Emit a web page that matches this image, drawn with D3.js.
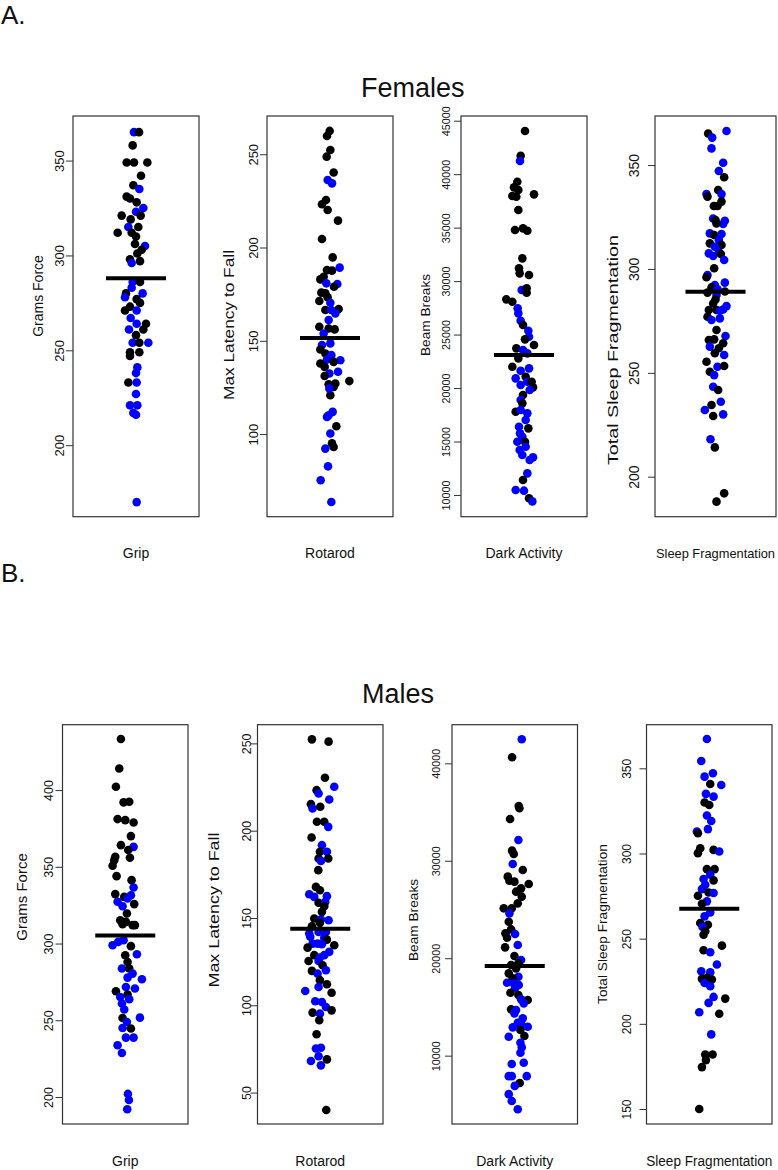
<!DOCTYPE html>
<html><head><meta charset="utf-8">
<script src="https://cdn.jsdelivr.net/npm/d3@7/dist/d3.min.js"></script>
<style>body{margin:0;background:#fff}svg{display:block}text{font-family:"Liberation Sans",Arial,Helvetica,sans-serif;fill:#111}</style>
</head><body><svg id="c" width="778" height="1170"></svg>
<script>
// ---- data: [value, group (0 = black, 1 = blue), jitter] ----
const femaleGrip = [[365,1,-6],[365,0,9],[358,0,-10],[349,0,-28],[349,0,-6],[349,0,34],[342,0,15],[337,0,-8],[335,1,10],[331,0,-28],[330,0,-18],[328,0,2],[325,1,22],[323,1,0],[321,0,-43],[321,0,14],[319,0,-16],[315,1,-23],[315,0,7],[312,0,-55],[312,0,-13],[310,0,0],[306,0,-3],[305,1,27],[303,0,17],[301,0,4],[298,0,-18],[297,0,12],[296,1,-13],[286,1,-10],[286,0,12],[283,1,-13],[280,1,20],[280,0,-30],[278,1,-33],[277,0,2],[275,0,12],[271,0,-33],[273,0,-18],[271,1,2],[267,1,-16],[264,1,2],[264,0,30],[261,1,-21],[258,0,0],[261,0,22],[254,1,37],[254,1,-10],[254,0,10],[249,0,-18],[249,0,10],[247,0,-18],[241,1,4],[238,1,0],[233,0,-23],[233,1,2],[227,1,0],[221,1,-18],[221,1,4],[217,1,-8],[216,1,0],[170,1,2]];
const femaleRotarod = [[262.5,0,-1],[259.8,0,-9],[252.3,0,1],[248.7,0,-10],[240.2,0,11],[236.2,1,-7],[234.4,1,6],[223.2,0,-24],[225.5,0,-12],[220.1,0,-7],[214.4,0,24],[204.6,0,-24],[194.7,0,8],[189.2,1,29],[187.9,0,-9],[187.6,0,6],[182.9,0,-29],[184.3,0,-19],[180.8,1,-11],[180.4,1,22],[179,0,12],[175.8,0,-26],[175.4,0,-14],[173.3,0,-7],[171.3,0,-32],[170.4,1,1],[167,0,26],[166.5,0,-14],[166.5,1,4],[164.7,1,16],[161.1,1,-4],[157.5,0,-32],[156.6,0,-4],[156.1,0,14],[153.9,1,-19],[147.7,1,-24],[148.6,1,1],[145.3,0,-29],[143.2,0,-14],[142.3,1,4],[140,1,-9],[139.6,1,31],[138.7,0,11],[137.8,0,-29],[136,0,-16],[133.4,1,24],[132.5,1,-2],[131.1,0,-16],[128.4,0,58],[127.1,0,16],[126.7,0,-4],[125.3,0,11],[120.8,0,1],[124.4,1,-2],[111.9,1,8],[110.1,1,-4],[109.2,1,-9],[104.2,0,19],[100.3,1,1],[95,0,6],[93.1,0,11],[92.2,1,-14],[82.7,1,-6],[75.2,1,-28],[63.6,1,4]];
const femaleDark = [[44034,0,3],[41727,0,-10],[41228,1,-12],[39296,0,-20],[38766,0,-30],[38517,0,-17],[37956,0,-35],[37893,0,-23],[38112,0,30],[36646,0,-17],[34776,0,-27],[34932,0,-3],[34714,0,10],[32127,0,-5],[31192,0,-15],[30725,0,-13],[30569,0,15],[29166,1,-7],[29322,0,8],[28917,0,8],[28293,0,-53],[28075,0,-35],[27452,1,-19],[26985,1,-17],[26298,1,-10],[25893,0,-3],[25363,1,13],[24802,1,15],[24553,0,3],[24023,0,30],[23711,0,-23],[23555,1,-3],[23244,1,10],[22776,0,-17],[21997,0,-35],[21841,1,15],[21623,1,-10],[20906,1,-25],[21062,0,5],[20594,1,10],[20283,1,-10],[20594,0,23],[20064,0,27],[19815,1,17],[19347,0,-3],[18879,1,-10],[18568,0,-5],[17789,0,-25],[17944,1,-10],[17633,1,10],[17009,1,5],[16386,1,-15],[16230,0,13],[15763,1,-12],[15451,1,-5],[14984,0,3],[14984,1,-20],[14516,1,5],[14204,1,-13],[13737,1,-5],[13519,1,27],[13270,1,17],[12022,1,10],[11399,0,-3],[10464,1,-25],[10402,1,0],[9700,0,15],[9400,1,25]];
const femaleSleep = [[365.2,0,-22],[366.4,1,33],[363.2,1,-10],[358,1,-12],[351.1,1,23],[347.1,1,10],[344.1,0,26],[338,0,8],[336,1,-27],[334.8,0,-24],[336,1,18],[332.4,0,18],[330.3,0,-5],[330.3,0,6],[324.3,1,-7],[323.5,0,0],[323.2,1,28],[321.6,1,23],[321.9,0,3],[317.1,1,-17],[316.3,0,-4],[316.8,1,18],[313.9,1,10],[312.3,0,-17],[311.5,0,18],[310.7,1,-2],[307.5,1,-20],[308,1,10],[306.2,1,-7],[307.2,0,16],[304.3,1,26],[300.3,0,-4],[297.1,1,-24],[296,0,-27],[292.2,1,-2],[293.4,1,28],[291.1,0,-12],[290.2,1,6],[289.1,0,28],[288.6,0,-24],[287.4,1,3],[285.3,0,0],[283.4,0,-7],[282.1,1,33],[280.5,1,23],[280.2,0,-20],[280.2,0,3],[279.9,1,13],[277,0,-24],[275.4,1,-12],[276.2,1,13],[270.6,0,3],[267.7,1,30],[265.8,0,-20],[266.1,0,-4],[264.2,0,23],[262.6,1,-17],[261.8,0,10],[259.4,0,-2],[258.6,1,26],[255.3,0,-27],[250.5,0,-17],[248.9,1,-4],[252.9,1,6],[253.3,0,26],[243.3,1,-7],[241.7,0,8],[236.1,1,16],[234.5,0,-12],[232.1,1,-32],[229.2,0,-7],[230,1,23],[218,1,-15],[214.1,0,-2],[188,0,3],[192,0,26]];
const maleGrip = [[433.3,0,-13],[414.1,0,-18],[402.2,0,-28],[392,0,-5],[392.4,0,12],[381.1,0,-23],[380.4,0,0],[378.9,0,25],[370,0,17],[364.1,0,-13],[363,1,25],[360.9,0,9],[355.9,0,14],[356.5,0,-30],[354.3,0,-33],[350.7,0,-38],[343.9,0,-26],[341.3,0,19],[336.5,1,25],[331.5,1,17],[332.2,0,-30],[330.4,0,-3],[329.3,1,7],[327.2,1,-23],[325.7,0,27],[324.3,1,-8],[319.6,0,5],[315.2,0,-15],[314.1,0,2],[312,0,22],[312,0,29],[312.6,0,-8],[298.9,1,-38],[301.1,1,-21],[302.2,1,-5],[298.3,0,17],[292.4,0,0],[293,1,35],[288,0,7],[283.7,1,-10],[283.7,0,12],[280.4,1,22],[277.8,1,7],[276.7,1,50],[268.9,0,-28],[271.7,1,2],[270.7,1,29],[266.7,0,7],[265.2,1,-15],[263.7,1,12],[260.9,1,-10],[257,1,-3],[251.5,0,-8],[251.7,1,44],[248.9,1,5],[244.6,0,17],[245,1,-8],[238.7,1,2],[238.7,1,25],[233.7,1,-23],[228.7,1,-10],[202,1,8],[198,1,11],[192,1,6]];
const maleRotarod = [[252.3,0,-25],[251,0,25],[230.3,0,14],[223.2,0,-11],[221.3,1,-5],[225.2,1,42],[217.9,1,27],[215.2,0,-28],[212.7,1,-23],[213.7,0,0],[205.1,0,-10],[205.1,0,12],[202.2,1,24],[196.1,0,-26],[191.7,1,5],[187.9,0,-1],[187.9,1,20],[184.1,0,-5],[184.1,0,24],[182.7,1,2],[177.4,0,-6],[167.8,0,-13],[165.9,0,-1],[163.6,1,-33],[162.1,1,-18],[162.5,1,20],[158.7,0,-5],[159.2,1,15],[156.7,0,12],[153.5,0,5],[149.7,0,-18],[149.1,1,2],[148.7,1,25],[145.3,0,-25],[147.2,0,-1],[141.1,1,-33],[142,1,-5],[142,1,17],[139.2,1,-30],[138.6,1,12],[137.6,0,20],[135.3,1,-23],[135.3,1,-8],[135,1,5],[134.4,0,42],[133,0,-38],[130.6,1,27],[128.7,1,12],[128.7,0,-18],[127.3,1,-1],[125.4,0,-35],[125.4,1,-5],[122.9,0,7],[119.7,0,-25],[120.1,1,17],[118.1,1,-8],[114.4,0,-1],[112,0,20],[110.5,1,-5],[108.2,1,-45],[107.2,0,34],[102.3,1,-15],[101.9,1,5],[99,1,17],[97.1,0,34],[95.8,0,-23],[95.2,1,-1],[91.4,0,-3],[83.4,0,-11],[75.2,1,-13],[75.7,1,2],[70.8,1,-5],[68.1,1,-28],[69,0,20],[65.6,1,2],[40,0,18]];
const maleDark = [[42463,1,21],[40616,0,-8],[35621,0,12],[35382,0,14],[34287,0,-14],[32132,1,11],[31037,0,-8],[30695,0,-3],[29669,1,-6],[29053,0,24],[28369,0,-21],[27958,0,-16],[27856,0,-1],[27616,0,42],[27171,0,19],[26829,0,4],[26316,0,21],[25632,0,9],[25119,0,-33],[25119,0,-9],[24605,1,-16],[23750,0,-18],[22963,0,-11],[22553,0,-28],[22485,1,1],[22108,0,-23],[21356,1,9],[21116,0,-29],[20226,0,-1],[19816,1,19],[19474,0,11],[19303,0,-11],[18961,0,4],[18448,0,-18],[18105,1,11],[17934,0,-6],[17489,1,-23],[17420,1,-3],[17250,1,12],[16908,1,1],[16463,0,-13],[16223,0,11],[15779,1,19],[15711,0,39],[15368,1,27],[14752,0,-11],[14684,1,4],[14342,1,-1],[13829,1,24],[13384,1,9],[12974,1,39],[13145,1,21],[12632,0,17],[12906,1,-6],[11948,1,-18],[12016,0,29],[11332,1,17],[10853,1,21],[10306,1,17],[9143,1,-9],[9280,1,27],[7900,1,-18],[7900,1,-9],[7900,1,36],[7200,0,15],[6900,1,0],[6050,1,-18],[5350,1,-9],[4500,1,9]];
const maleSleep = [[367.2,1,-7],[354.3,1,-24],[345.1,1,-14],[347.1,1,11],[340.8,0,3],[340.2,1,36],[335,1,-10],[333.4,1,13],[329.9,0,-14],[328.5,0,0],[322.3,1,-7],[319.1,1,6],[312.9,1,-37],[314.3,1,-4],[311.9,0,-34],[303.1,0,-27],[300.2,0,-34],[302.1,0,13],[301.2,1,30],[290.8,0,-7],[290.8,0,16],[287.5,1,3],[285,1,-17],[284.2,0,13],[281.6,1,-12],[279.1,1,-22],[277.1,0,-2],[276.8,1,13],[275.2,0,-34],[271.9,1,-7],[270.5,0,-22],[265.4,1,3],[263.1,1,-14],[259.2,0,-27],[258.2,0,-4],[256.8,1,-20],[254.3,0,-12],[252.3,0,-17],[245.9,0,38],[243.2,0,-17],[242,1,3],[234.8,1,23],[230.9,1,-24],[230.3,1,3],[226.4,0,-22],[227,0,-7],[226,0,8],[224,1,-14],[222.1,1,3],[215.8,1,13],[214.8,0,48],[212.3,1,-2],[206.8,1,-30],[205.9,0,30],[193.8,1,6],[182,0,-12],[182,0,10],[178.7,0,-10],[174.6,0,-22],[150,0,-30]];

const categories = ["Grip", "Rotarod", "Dark Activity", "Sleep Fragmentation"];
const yLabels = ["Grams Force", "Max Latency to Fall", "Beam Breaks", "Total Sleep Fragmentation"];
const femaleMeans = [288, 151.5, 23100, 289];
const maleMeans = [305.3, 143.9, 19200, 267.6];
const femaleDomains = [[162.3,373.5],[55.7,270.5],[7968,45440],[180.75,373.6]];
const maleDomains = [[182.4,442.6],[32,260.7],[2988,43963],[141.2,375.6]];
const femaleTicks = [[200,250,300,350],[100,150,200,250],[10000,15000,20000,25000,30000,35000,40000,45000],[200,250,300,350]];
const maleTicks = [[200,250,300,350,400],[50,100,150,200,250],[10000,20000,30000,40000],[150,200,250,300,350]];
const rowTitles = ["Females", "Males"];
const panelLetters = ["A.", "B."];
const groupColors = ["#000000", "#0000ff"];

// ---- layout ----
const svg = d3.select("#c");
const rows = [
  {data:[femaleGrip,femaleRotarod,femaleDark,femaleSleep], means:femaleMeans, domains:femaleDomains, ticks:femaleTicks,
   top:116, bottom:516.7, lefts:[73,267,461,655], widths:[126,126,126,121], xLabY:558,
   xLabFont:[14,14,14,13], xLabLen:[null,null,null,119],
   tickX:[64,258,450,639], tickFont:[13,13,10.8,14],
   ylabX:[43,234,430,618], ylabY:[296,325,315,350], ylabFont:[14,14,13.7,14], ylabLen:[null,150,null,230],
   title:{x:361,y:97,size:27}, letter:{x:1,y:24}},
  {data:[maleGrip,maleRotarod,maleDark,maleSleep], means:maleMeans, domains:maleDomains, ticks:maleTicks,
   top:724.7, bottom:1124, lefts:[62.5,257.5,452,646.5], widths:[125.5,125.5,125.5,125.5], xLabY:1166,
   xLabFont:[14,14,14,14], xLabLen:[null,null,null,126],
   tickX:[53,251,440,631], tickFont:[12.5,12.4,10.8,12],
   ylabX:[27,219,418,607], ylabY:[897,910,920,924], ylabFont:[15,15,13.7,13.7], ylabLen:[null,155,null,null],
   title:{x:362,y:703,size:27}, letter:{x:1,y:582}}
];

rows.forEach((row, ri) => {
  svg.append("text").attr("x", row.letter.x).attr("y", row.letter.y)
    .attr("font-size", 26).text(panelLetters[ri]);
  svg.append("text").attr("x", row.title.x).attr("y", row.title.y)
    .attr("font-size", row.title.size).text(rowTitles[ri]);

  row.data.forEach((pts, pi) => {
    const L = row.lefts[pi], W = row.widths[pi];
    const xc = d3.scaleLinear().domain([-189, 189]).range([L, L + 126]);
    const y = d3.scaleLinear().domain(row.domains[pi]).range([row.bottom, row.top]);
    const cx = L + W / 2;
    const g = svg.append("g");

    // y axis
    const ax = g.append("g").attr("transform", `translate(${L},0)`)
      .call(d3.axisLeft(y).tickValues(row.ticks[pi]).tickSize(7).tickFormat(d3.format("d")));
    ax.select(".domain").remove();
    ax.selectAll(".tick line").attr("stroke", "#333").attr("stroke-width", 1);
    ax.selectAll(".tick text").remove();
    ax.selectAll(".tick").append("text")
      .attr("transform", `translate(${row.tickX[pi] - L},0) rotate(-90)`)
      .attr("text-anchor", "middle").attr("fill", "#222")
      .attr("font-size", row.tickFont[pi])
      .text(d => d3.format("d")(d));

    // y label
    const yl = g.append("text")
      .attr("transform", `translate(${row.ylabX[pi]},${row.ylabY[pi]}) rotate(-90)`)
      .attr("text-anchor", "middle").attr("font-size", row.ylabFont[pi]).attr("fill", "#222")
      .text(yLabels[pi]);
    if (row.ylabLen[pi]) yl.attr("textLength", row.ylabLen[pi]).attr("lengthAdjust", "spacingAndGlyphs");

    // x label
    const xl = g.append("text").attr("x", cx).attr("y", row.xLabY)
      .attr("text-anchor", "middle").attr("font-size", row.xLabFont[pi]).attr("fill", "#222")
      .text(categories[pi]);
    if (row.xLabLen[pi]) xl.attr("textLength", row.xLabLen[pi]).attr("lengthAdjust", "spacingAndGlyphs");

    // points
    g.append("g").selectAll("circle").data(pts).join("circle")
      .attr("cx", d => xc(d[2]) + (W - 126) / 2).attr("cy", d => y(d[0])).attr("r", 4.3)
      .attr("fill", d => groupColors[d[1]]);

    // mean line
    g.append("line")
      .attr("x1", cx - 30).attr("x2", cx + 30)
      .attr("y1", y(row.means[pi])).attr("y2", y(row.means[pi]))
      .attr("stroke", "#000").attr("stroke-width", 4);

    // box
    g.append("rect").attr("x", L).attr("y", row.top).attr("width", W).attr("height", row.bottom - row.top)
      .attr("fill", "none").attr("stroke", "#333").attr("stroke-width", 1.2);
  });
});
</script></body></html>
